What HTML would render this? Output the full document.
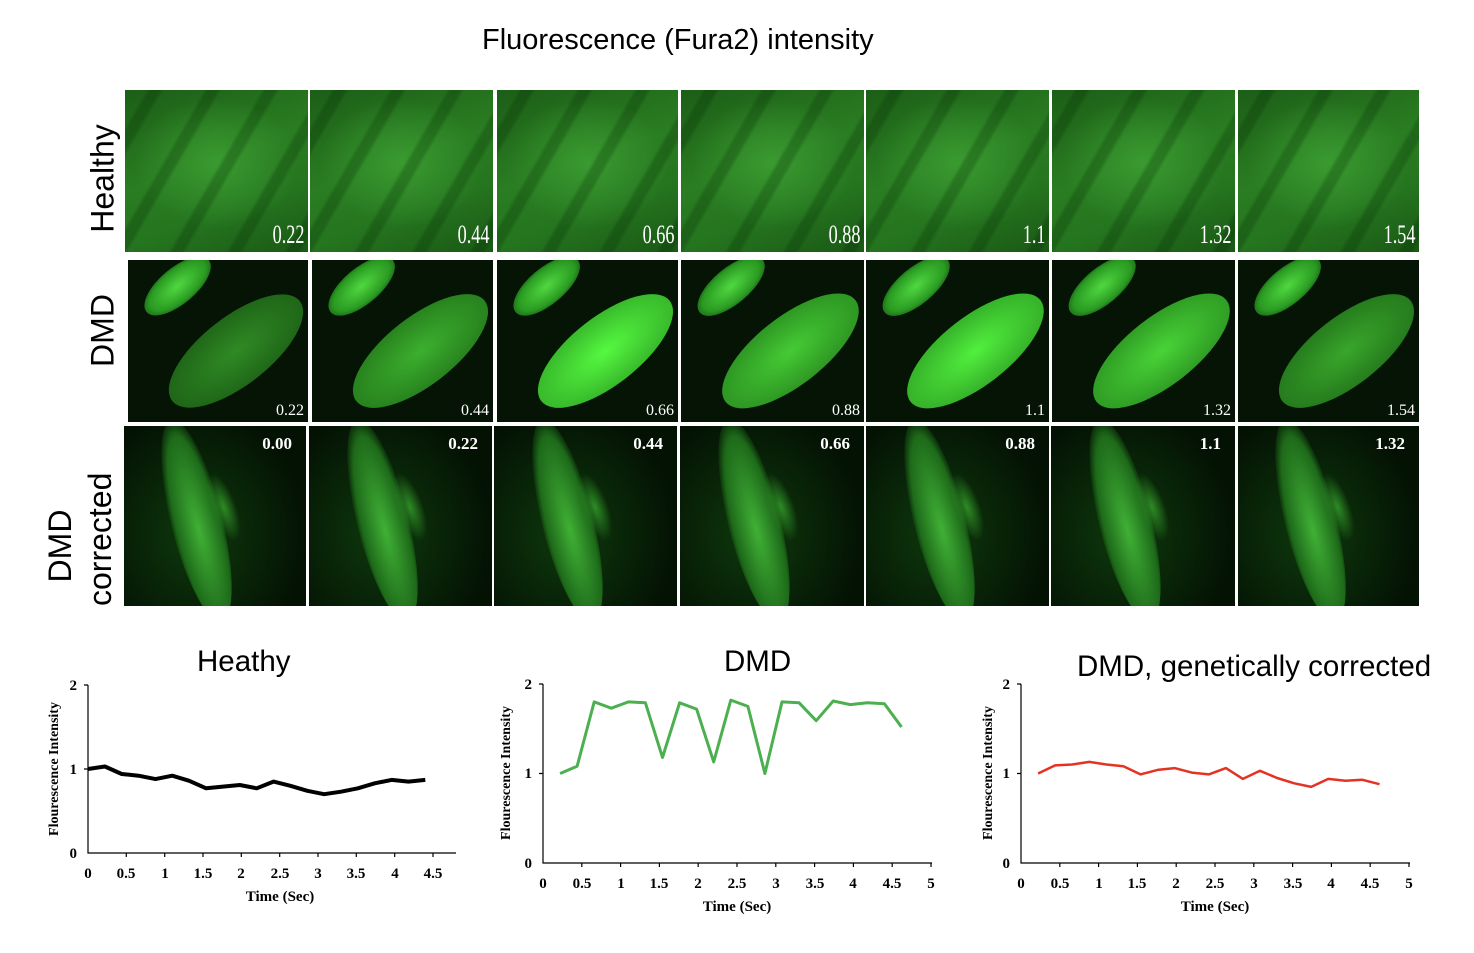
<!DOCTYPE html>
<html><head><meta charset="utf-8"><style>
body{margin:0;width:1474px;height:953px;background:#fff;position:relative;overflow:hidden;font-family:"Liberation Sans",sans-serif}
.t{position:absolute;white-space:nowrap}
.p{position:absolute;overflow:hidden}
.r1{top:90px;height:162px;background:
 repeating-linear-gradient(120deg,rgba(0,0,0,0) 0 18px,rgba(0,40,0,.25) 22px 30px,rgba(0,0,0,0) 34px 50px),
 radial-gradient(ellipse 45% 40% at 50% 45%,#3a9a30,rgba(0,0,0,0)),
 linear-gradient(160deg,#1c5e17,#2a7d22 45%,#25741f 70%,#1a5915)}
.r2{top:260px;height:162px;background:#051405}
.r3{top:426px;height:180px;background:radial-gradient(ellipse 60% 70% at 40% 60%,#0e3a0c,#041204)}
.cell{position:absolute;left:15%;top:35%;width:90%;height:42%;border-radius:50%;transform:rotate(-38deg);background:radial-gradient(ellipse at 50% 50%,#3fb830,#2a8a20 70%,#17501a)}
.blob{position:absolute;left:5%;top:5%;width:45%;height:22%;border-radius:50%;transform:rotate(-40deg);background:radial-gradient(#50d840,#2a9a22 60%,rgba(0,0,0,0))}
.stripe{position:absolute;left:26%;top:-5%;width:28%;height:115%;border-radius:50%;transform:rotate(-14deg);background:radial-gradient(ellipse at 50% 55%,#40b035,#1e6a1a 60%,rgba(0,0,0,0) 75%)}
.stripe2{position:absolute;left:48%;top:25%;width:14%;height:40%;border-radius:50%;transform:rotate(-20deg);background:radial-gradient(#2d8a25,rgba(0,0,0,0) 70%)}
.n1{position:absolute;right:4px;bottom:2px;color:#fff;font-family:"Liberation Serif",serif;font-size:26px;transform:scaleX(.7);transform-origin:right bottom}
.n2{position:absolute;right:4px;bottom:2px;color:#fff;font-family:"Liberation Serif",serif;font-size:16px}
.n3{position:absolute;right:14px;top:8px;color:#fff;font-family:"Liberation Serif",serif;font-size:17px;font-weight:bold}
.yl{position:absolute;font-size:32px;transform:rotate(-90deg);transform-origin:center;white-space:nowrap;text-align:center}
</style></head><body>
<div class="t" style="left:482px;top:24px;font-size:29px">Fluorescence (Fura2) intensity</div>
<div class="yl" style="left:48px;top:160px;width:110px">Healthy</div>
<div class="yl" style="left:48px;top:312px;width:110px">DMD</div>
<div class="yl" style="left:20px;top:506px;width:120px;line-height:40px">DMD<br>corrected</div>

<div class="p r1" style="left:125px;width:183px"><span class="n1">0.22</span></div>
<div class="p r1" style="left:310px;width:183px"><span class="n1">0.44</span></div>
<div class="p r1" style="left:497px;width:181px"><span class="n1">0.66</span></div>
<div class="p r1" style="left:681px;width:183px"><span class="n1">0.88</span></div>
<div class="p r1" style="left:866px;width:183px"><span class="n1">1.1</span></div>
<div class="p r1" style="left:1052px;width:183px"><span class="n1">1.32</span></div>
<div class="p r1" style="left:1238px;width:181px"><span class="n1">1.54</span></div>

<div class="p r2" style="left:128px;width:180px"><div class="blob"></div><div class="cell" style="filter:brightness(.75)"></div><span class="n2">0.22</span></div>
<div class="p r2" style="left:312px;width:181px"><div class="blob"></div><div class="cell" style="filter:brightness(.95)"></div><span class="n2">0.44</span></div>
<div class="p r2" style="left:497px;width:181px"><div class="blob"></div><div class="cell" style="filter:brightness(1.35)"></div><span class="n2">0.66</span></div>
<div class="p r2" style="left:681px;width:183px"><div class="blob"></div><div class="cell" style="filter:brightness(1.1)"></div><span class="n2">0.88</span></div>
<div class="p r2" style="left:866px;width:183px"><div class="blob"></div><div class="cell" style="filter:brightness(1.3)"></div><span class="n2">1.1</span></div>
<div class="p r2" style="left:1052px;width:183px"><div class="blob"></div><div class="cell" style="filter:brightness(1.15)"></div><span class="n2">1.32</span></div>
<div class="p r2" style="left:1238px;width:181px"><div class="blob"></div><div class="cell" style="filter:brightness(.9)"></div><span class="n2">1.54</span></div>

<div class="p r3" style="left:124px;width:182px"><div class="stripe"></div><div class="stripe2"></div><span class="n3">0.00</span></div>
<div class="p r3" style="left:309px;width:183px"><div class="stripe"></div><div class="stripe2"></div><span class="n3">0.22</span></div>
<div class="p r3" style="left:494px;width:183px"><div class="stripe"></div><div class="stripe2"></div><span class="n3">0.44</span></div>
<div class="p r3" style="left:680px;width:184px"><div class="stripe"></div><div class="stripe2"></div><span class="n3">0.66</span></div>
<div class="p r3" style="left:866px;width:183px"><div class="stripe"></div><div class="stripe2"></div><span class="n3">0.88</span></div>
<div class="p r3" style="left:1051px;width:184px"><div class="stripe"></div><div class="stripe2"></div><span class="n3">1.1</span></div>
<div class="p r3" style="left:1238px;width:181px"><div class="stripe"></div><div class="stripe2"></div><span class="n3">1.32</span></div>

<div class="t" style="left:197px;top:645px;font-size:29.5px">Heathy</div>
<div class="t" style="left:724px;top:645px;font-size:29.5px">DMD</div>
<div class="t" style="left:1077px;top:650px;font-size:29.5px">DMD, genetically corrected</div>

<svg width="1474" height="953" style="position:absolute;left:0;top:0" font-family="Liberation Serif,serif" font-weight="bold" font-size="15">
<g stroke="#000" stroke-width="1.2" fill="none">
<path d="M88,685V853H456"/>
<path d="M84,685H88M84,769H88M126.3,853v4M164.7,853v4M203,853v4M241.3,853v4M279.7,853v4M318,853v4M356.3,853v4M394.7,853v4M433,853v4"/>
</g>
<g text-anchor="end"><text x="77" y="690">2</text><text x="77" y="774">1</text><text x="77" y="858">0</text></g>
<g text-anchor="middle"><text x="88" y="878">0</text><text x="126" y="878">0.5</text><text x="165" y="878">1</text><text x="203" y="878">1.5</text><text x="241" y="878">2</text><text x="280" y="878">2.5</text><text x="318" y="878">3</text><text x="356" y="878">3.5</text><text x="395" y="878">4</text><text x="433" y="878">4.5</text>
<text x="280" y="901">Time (Sec)</text>
<text transform="translate(58,769) rotate(-90)" font-size="14">Flourescence Intensity</text></g>
<polyline id="l1" fill="none" stroke="#000" stroke-width="4" stroke-linejoin="round"/>

<g stroke="#000" stroke-width="1.2" fill="none">
<path d="M543,684V863H932"/>
<path d="M539,684H543M539,773.5H543M581.8,863v4M620.6,863v4M659.4,863v4M698.2,863v4M737,863v4M775.8,863v4M814.6,863v4M853.4,863v4M892.2,863v4M931,863v4"/>
</g>
<g text-anchor="end"><text x="532" y="689">2</text><text x="532" y="778">1</text><text x="532" y="868">0</text></g>
<g text-anchor="middle"><text x="543" y="888">0</text><text x="582" y="888">0.5</text><text x="621" y="888">1</text><text x="659" y="888">1.5</text><text x="698" y="888">2</text><text x="737" y="888">2.5</text><text x="776" y="888">3</text><text x="815" y="888">3.5</text><text x="853" y="888">4</text><text x="892" y="888">4.5</text><text x="931" y="888">5</text>
<text x="737" y="911">Time (Sec)</text>
<text transform="translate(510,773) rotate(-90)" font-size="14">Flourescence Intensity</text></g>
<polyline id="l2" fill="none" stroke="#4caf50" stroke-width="3" stroke-linejoin="round"/>

<g stroke="#000" stroke-width="1.2" fill="none">
<path d="M1021,684V863H1410"/>
<path d="M1017,684H1021M1017,773.5H1021M1059.8,863v4M1098.6,863v4M1137.4,863v4M1176.2,863v4M1215,863v4M1253.8,863v4M1292.6,863v4M1331.4,863v4M1370.2,863v4M1409,863v4"/>
</g>
<g text-anchor="end"><text x="1010" y="689">2</text><text x="1010" y="778">1</text><text x="1010" y="868">0</text></g>
<g text-anchor="middle"><text x="1021" y="888">0</text><text x="1060" y="888">0.5</text><text x="1099" y="888">1</text><text x="1137" y="888">1.5</text><text x="1176" y="888">2</text><text x="1215" y="888">2.5</text><text x="1254" y="888">3</text><text x="1293" y="888">3.5</text><text x="1331" y="888">4</text><text x="1370" y="888">4.5</text><text x="1409" y="888">5</text>
<text x="1215" y="911">Time (Sec)</text>
<text transform="translate(992,773) rotate(-90)" font-size="14">Flourescence Intensity</text></g>
<polyline id="l3" fill="none" stroke="#e53323" stroke-width="2.5" stroke-linejoin="round"/>
</svg>
<script>
function pts(v,x0,sx,y0,sy,t0){return v.map((a,i)=>(x0+(t0+i*0.22)*sx).toFixed(1)+','+(y0-a*sy).toFixed(1)).join(' ')}
document.getElementById('l1').setAttribute('points',pts([1.0,1.03,0.94,0.92,0.88,0.92,0.86,0.77,0.79,0.81,0.77,0.85,0.8,0.74,0.7,0.73,0.77,0.83,0.87,0.85,0.87],88,76.67,853,84,0));
document.getElementById('l2').setAttribute('points',pts([1.0,1.08,1.8,1.73,1.8,1.79,1.18,1.79,1.72,1.13,1.82,1.75,1.0,1.8,1.79,1.59,1.81,1.77,1.79,1.78,1.52],543,77.6,863,89.5,0.22));
document.getElementById('l3').setAttribute('points',pts([1.0,1.09,1.1,1.13,1.1,1.08,0.99,1.04,1.06,1.01,0.99,1.06,0.94,1.03,0.95,0.89,0.85,0.94,0.92,0.93,0.88],1021,77.6,863,89.5,0.22));
</script>
</body></html>
